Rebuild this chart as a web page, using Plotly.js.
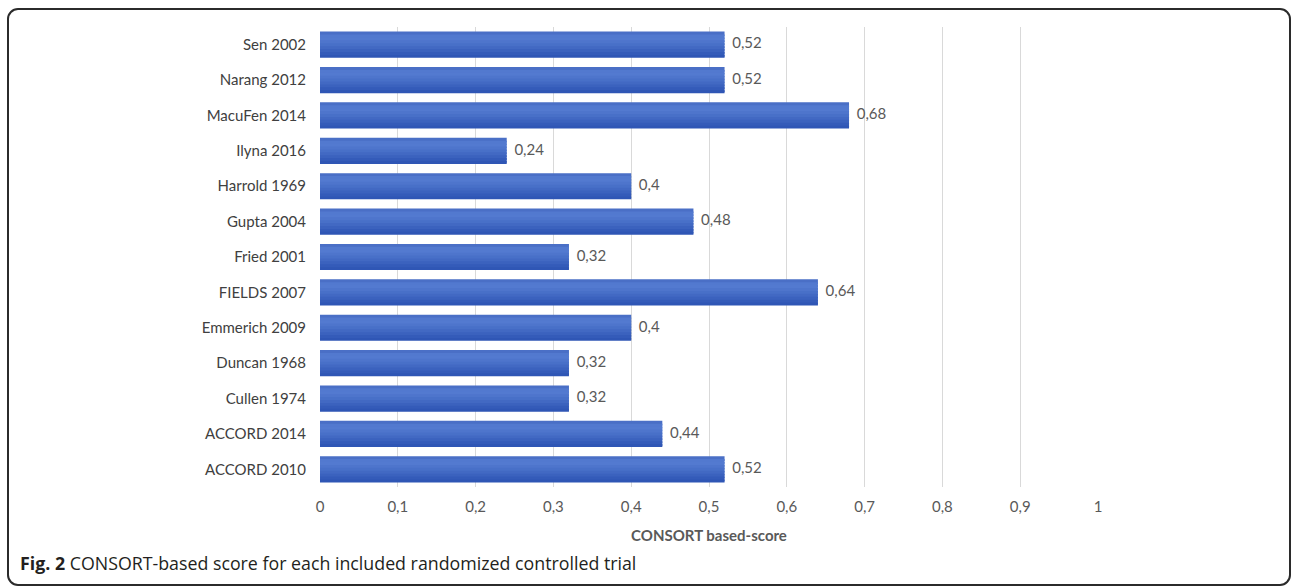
<!DOCTYPE html>
<html>
<head>
<meta charset="utf-8">
<script src="https://cdn.plot.ly/plotly-3.0.1.min.js"></script>
<style>
  html, body { margin: 0; padding: 0; background: #fff; }
  #wrap { position: relative; width: 1292px; height: 588px; }
  #chart { position: absolute; left: 0; top: 0; width: 1292px; height: 588px; }
  #frame { position: absolute; left: 7px; top: 8px; width: 1280px; height: 574px;
           border: 2px solid #2b2b2b; border-radius: 11px; pointer-events: none; }
</style>
</head>
<body>
<div id="wrap">
  <div id="chart"></div>
  <div id="frame"></div>
</div>
<script>
const categories = ["Sen 2002", "Narang 2012", "MacuFen 2014", "Ilyna 2016", "Harrold 1969",
  "Gupta 2004", "Fried 2001", "FIELDS 2007", "Emmerich 2009", "Duncan 1968",
  "Cullen 1974", "ACCORD 2014", "ACCORD 2010"];
const scores = [0.52, 0.52, 0.68, 0.24, 0.4, 0.48, 0.32, 0.64, 0.4, 0.32, 0.32, 0.44, 0.52];
const tickValues = [0, 0.1, 0.2, 0.3, 0.4, 0.5, 0.6, 0.7, 0.8, 0.9, 1];
const axisTitle = "CONSORT based-score";
const captionBold = "Fig. 2";
const captionText = " CONSORT-based score for each included randomized controlled trial";

const labels = scores.map(v => '\u00a0\u00a0' + String(v).replace('.', ','));

// vertical gradient of the bars (top -> bottom), drawn as thin overlapping bands
const bandColors = ['#4a6fc6', '#5279cf', '#537ad0', '#4e75cc', '#4870c8', '#4269c3', '#3b62be', '#345bb9', '#2f56b5'];
const fullWidth = 0.74;
const n = bandColors.length;
const bandW = fullWidth / n;
const traces = bandColors.map((c, i) => ({
  type: 'bar',
  orientation: 'h',
  y: categories,
  x: scores,
  width: categories.map(() => bandW + (i < n - 1 ? 0.05 : 0)),
  offset: categories.map(() => -fullWidth / 2 + i * bandW),
  marker: { color: c, line: { width: 0 } },
  hoverinfo: 'none'
}));

traces.push({
  type: 'scatter',
  mode: 'text',
  y: categories,
  x: scores,
  text: labels,
  textposition: 'middle right',
  cliponaxis: false,
  textfont: { family: 'Lato, "Liberation Sans", sans-serif', size: 15, color: '#595959' },
  hoverinfo: 'none'
});

const layout = {
  width: 1292, height: 588,
  margin: { l: 320, r: 194, t: 27, b: 101 },
  paper_bgcolor: 'rgba(0,0,0,0)',
  plot_bgcolor: '#fff',
  separators: ',.',
  barmode: 'overlay',
  showlegend: false,
  font: { family: 'Lato, "Liberation Sans", sans-serif', size: 15, color: '#595959' },
  xaxis: {
    range: [0, 1],
    tickvals: tickValues,
    ticktext: tickValues.map(v => String(v).replace('.', ',')),
    showgrid: true, gridcolor: '#d9d9d9', gridwidth: 1,
    zeroline: false, showline: false, ticks: '',
    ticklabelstandoff: 9,
    tickfont: { size: 15, color: '#595959' },
    fixedrange: true,
    title: { text: axisTitle, font: { size: 15, color: '#595959', weight: 'bold' }, standoff: 16 }
  },
  yaxis: {
    type: 'category',
    categoryorder: 'array',
    categoryarray: categories,
    range: [categories.length - 0.5, -0.5],
    autorange: false,
    showgrid: false, zeroline: false, showline: false, ticks: '',
    ticklabelstandoff: 13,
    tickfont: { size: 15, color: '#404040' },
    fixedrange: true
  },
  annotations: [{
    xref: 'paper', yref: 'paper',
    x: -302 / 778, y: -76 / 460,
    xanchor: 'left', yanchor: 'middle',
    showarrow: false,
    text: '<b>' + captionBold + '</b>' + captionText,
    font: { family: '"Open Sans", "Noto Sans", sans-serif', size: 17.8, color: '#231f20' }
  }]
};

Plotly.newPlot('chart', traces, layout, { displayModeBar: false, staticPlot: true });
</script>
</body>
</html>
